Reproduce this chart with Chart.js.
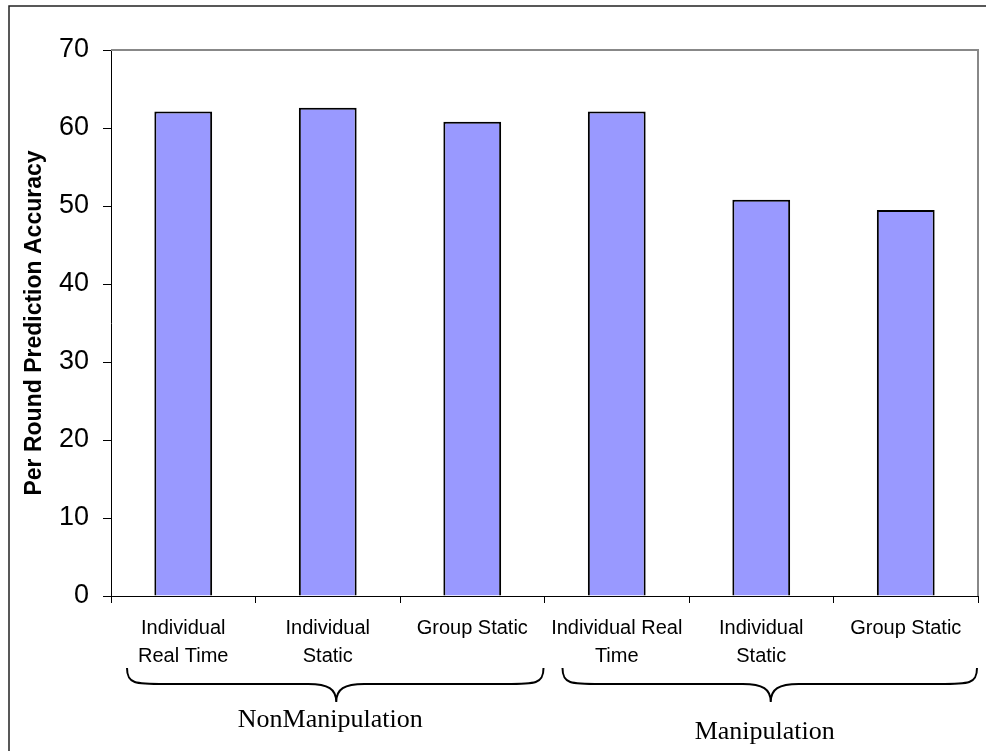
<!DOCTYPE html>
<html>
<head>
<meta charset="utf-8">
<script src="https://cdn.jsdelivr.net/npm/chart.js@4/dist/chart.umd.min.js"></script>
<style>
  html, body { margin: 0; padding: 0; background: #fff; }
  canvas { display: block; }
</style>
</head>
<body>
<canvas id="myChart" width="986" height="751"></canvas>
<script>
const categories = [
    ['Individual', 'Real Time'],
    ['Individual', 'Static'],
    'Group Static',
    ['Individual Real', 'Time'],
    ['Individual', 'Static'],
    'Group Static'
];
const accuracy = [62.1, 62.6, 60.8, 62.1, 50.8, 49.5];
const groupNames = ['NonManipulation', 'Manipulation'];
const groupStart = [0, 3];
const groupEnd = [2, 5];
const yTicks = [0, 10, 20, 30, 40, 50, 60, 70];

// frame around the whole picture + grey border of the plot area
const framePlugin = {
    id: 'frame',
    beforeDraw(chart) {
        const c = chart.ctx;
        c.save();
        c.fillStyle = '#fff';
        c.fillRect(0, 0, chart.width, chart.height);
        c.strokeStyle = '#222';
        c.lineWidth = 1.5;
        c.strokeRect(9, 6, chart.width + 20, chart.height + 20);
        c.restore();
    },
    afterDatasetsDraw(chart) {
        const a = chart.chartArea;
        const c = chart.ctx;
        c.save();
        c.strokeStyle = '#888';
        c.lineWidth = 2;
        c.beginPath();
        c.moveTo(a.left, a.top);
        c.lineTo(a.right, a.top);
        c.lineTo(a.right, a.bottom);
        c.stroke();
        c.restore();
    }
};

// curly braces and group names under the x axis
const bracePlugin = {
    id: 'braces',
    afterDraw(chart) {
        const x = chart.scales.x;
        const c = chart.ctx;
        const half = (x.getPixelForValue(1) - x.getPixelForValue(0)) / 2;
        const yTop = 668, yMid = 684, yTip = 702;
        c.save();
        c.strokeStyle = '#000';
        c.lineWidth = 2;
        c.fillStyle = '#000';
        c.font = '26px "Liberation Serif", "Times New Roman", serif';
        c.textAlign = 'center';
        c.textBaseline = 'alphabetic';
        groupNames.forEach((name, i) => {
            const x0 = x.getPixelForValue(groupStart[i]) - half + (i === 0 ? 16 : 18);
            const x1 = x.getPixelForValue(groupEnd[i]) + half - 1;
            const xc = (x0 + x1) / 2 + 1;
            c.beginPath();
            c.moveTo(x0, yTop);
            c.bezierCurveTo(x0, yMid, x0 + 8, yMid, x0 + 38, yMid);
            c.lineTo(xc - 28, yMid);
            c.bezierCurveTo(xc - 8, yMid, xc, yMid + 5, xc, yTip);
            c.bezierCurveTo(xc, yMid + 5, xc + 8, yMid, xc + 28, yMid);
            c.lineTo(x1 - 38, yMid);
            c.bezierCurveTo(x1 - 8, yMid, x1, yMid, x1, yTop);
            c.stroke();
            c.fillText(name, xc - 6, i === 0 ? 727 : 739);
        });
        c.restore();
    }
};

const ctx = document.getElementById('myChart');

const myChart = new Chart(ctx, {
    type: 'bar',
    data: {
        labels: categories,
        datasets: [{
            label: 'Per Round Prediction Accuracy',
            data: accuracy,
            backgroundColor: '#9999ff',
            borderColor: '#000',
            borderWidth: 2,
            borderSkipped: 'bottom',
            categoryPercentage: 0.8,
            barPercentage: 0.5
        }]
    },
    options: {
        responsive: false,
        animation: false,
        devicePixelRatio: 1,
        layout: {
            padding: { top: 50, right: 8, left: 0, bottom: 0 }
        },
        plugins: {
            legend: { display: false },
            tooltip: { enabled: false }
        },
        scales: {
            x: {
                grid: {
                    offset: true,
                    drawOnChartArea: false,
                    drawTicks: true,
                    tickLength: 7,
                    color: '#000'
                },
                border: { display: true, color: '#000', width: 1 },
                ticks: {
                    color: '#000',
                    padding: 11,
                    maxRotation: 0,
                    autoSkip: false,
                    font: { family: '"Liberation Sans", Arial, sans-serif', size: 20, lineHeight: 1.42 }
                },
                afterFit(scale) {
                    scale.height = 155;
                }
            },
            y: {
                min: 0,
                max: 70,
                afterBuildTicks(scale) {
                    scale.ticks = yTicks.map(v => ({ value: v }));
                },
                grid: {
                    drawOnChartArea: false,
                    drawTicks: true,
                    tickLength: 8,
                    color: '#000'
                },
                border: { display: true, color: '#000', width: 1 },
                ticks: {
                    color: '#000',
                    padding: 14,
                    font: { family: '"Liberation Sans", Arial, sans-serif', size: 27 }
                },
                title: {
                    display: true,
                    text: 'Per Round Prediction Accuracy',
                    color: '#000',
                    padding: { top: 21, bottom: 0 },
                    font: { family: '"Liberation Sans", Arial, sans-serif', size: 23, weight: 'bold' }
                },
                afterFit(scale) {
                    scale.width = 111;
                }
            }
        }
    },
    plugins: [framePlugin, bracePlugin]
});
</script>
</body>
</html>
